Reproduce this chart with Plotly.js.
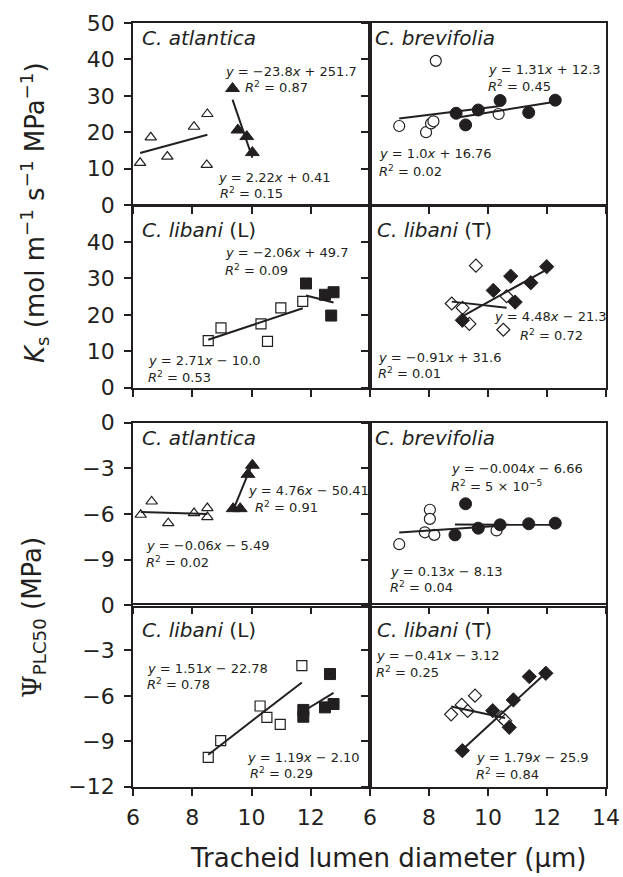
<!DOCTYPE html>
<html><head><meta charset="utf-8">
<script src="https://cdn.plot.ly/plotly-3.0.1.min.js"></script>
<style>html,body{margin:0;padding:0;background:#fff}#chart{width:623px;height:877px}</style>
</head><body><div id="chart"></div>
<script>
// ---------- data ----------
// Ks panels (row 1 & 2)
const ksAtlOpenX = [6.24, 6.60, 7.16, 8.06, 8.51, 8.49];
const ksAtlOpenY = [11.6, 18.6, 13.3, 21.5, 25.0, 11.0];
const ksAtlFillX = [9.36, 9.54, 9.84, 10.03];
const ksAtlFillY = [32.0, 20.6, 18.8, 14.4];

const ksBreOpenX = [6.99, 7.90, 8.07, 8.15, 8.23, 10.36];
const ksBreOpenY = [21.7, 20.0, 22.4, 23.0, 39.6, 25.0];
const ksBreFillX = [8.92, 9.24, 9.67, 10.41, 11.38, 12.28];
const ksBreFillY = [25.2, 22.0, 26.1, 28.7, 25.4, 28.8];

const ksLibLOpenX = [8.54, 8.97, 10.32, 10.54, 10.99, 11.73];
const ksLibLOpenY = [12.9, 16.4, 17.5, 12.7, 21.9, 23.7];
const ksLibLFillX = [11.84, 12.48, 12.77, 12.69];
const ksLibLFillY = [28.6, 25.5, 26.2, 19.8];

const ksLibTOpenX = [8.77, 9.14, 9.37, 9.59, 10.52, 10.63];
const ksLibTOpenY = [23.1, 21.9, 17.5, 33.5, 15.9, 25.1];
const ksLibTFillX = [9.13, 10.18, 10.77, 10.92, 11.45, 11.99];
const ksLibTFillY = [18.5, 26.7, 30.6, 23.5, 28.8, 33.2];

// Psi PLC50 panels (row 3 & 4)
const psAtlOpenX = [6.26, 6.63, 7.19, 8.06, 8.51, 8.51];
const psAtlOpenY = [-6.05, -5.18, -6.60, -5.94, -5.61, -6.20];
const psAtlFillX = [9.38, 9.62, 9.88, 10.03];
const psAtlFillY = [-5.65, -5.65, -3.40, -2.80];

const psBreOpenX = [6.99, 7.86, 8.03, 8.03, 8.18, 10.29];
const psBreOpenY = [-7.98, -7.20, -5.72, -6.32, -7.37, -7.08];
const psBreFillX = [8.88, 9.24, 9.67, 10.41, 11.38, 12.28];
const psBreFillY = [-7.37, -5.33, -6.93, -6.71, -6.64, -6.60];

const psLibLOpenX = [8.54, 8.96, 10.29, 10.52, 10.97, 11.70];
const psLibLOpenY = [-10.06, -8.96, -6.67, -7.42, -7.88, -4.00];
const psLibLFillX = [11.75, 11.75, 12.65, 12.48, 12.77];
const psLibLFillY = [-6.93, -7.38, -4.56, -6.76, -6.54];

const psLibTOpenX = [8.75, 9.11, 9.31, 9.56, 10.46, 10.58];
const psLibTOpenY = [-7.22, -6.60, -7.00, -5.99, -7.42, -7.64];
const psLibTFillX = [9.13, 10.16, 10.72, 10.86, 11.40, 11.96];
const psLibTFillY = [-9.62, -6.98, -8.08, -6.27, -4.73, -4.51];

// regression lines [slope, intercept], panel order 1..8
const openSlope  = [2.22, 1.0, 2.71, -0.91, -0.06, 0.13, 1.51, -0.41];
const openInt    = [0.41, 16.76, -10.0, 31.6, -5.49, -8.13, -22.78, -3.12];
const fillSlope  = [-23.8, 1.31, -2.06, 4.48, 4.76, -0.004, 1.19, 1.79];
const fillInt    = [251.7, 12.3, 49.7, -21.3, -50.41, -6.66, -21.0, -25.9];

// text labels
const panelTitles = ['<i>C. atlantica</i>', '<i>C. brevifolia</i>', '<i>C. libani</i> (L)', '<i>C. libani</i> (T)',
                     '<i>C. atlantica</i>', '<i>C. brevifolia</i>', '<i>C. libani</i> (L)', '<i>C. libani</i> (T)'];
const eqA = ['<i>y</i> = −23.8<i>x</i> + 251.7', '<i>y</i> = 1.31<i>x</i> + 12.3', '<i>y</i> = −2.06<i>x</i> + 49.7', '<i>y</i> = 4.48<i>x</i> − 21.3',
             '<i>y</i> = 4.76<i>x</i> − 50.41', '<i>y</i> = −0.004<i>x</i> − 6.66', '<i>y</i> = 1.51<i>x</i> − 22.78', '<i>y</i> = −0.41<i>x</i> − 3.12'];
const r2A = ['0.87', '0.45', '0.09', '0.72', '0.91', '5 × 10<sup>−5</sup>', '0.78', '0.25'];
const eqB = ['<i>y</i> = 2.22<i>x</i> + 0.41', '<i>y</i> = 1.0<i>x</i> + 16.76', '<i>y</i> = 2.71<i>x</i> − 10.0', '<i>y</i> = −0.91<i>x</i> + 31.6',
             '<i>y</i> = −0.06<i>x</i> − 5.49', '<i>y</i> = 0.13<i>x</i> − 8.13', '<i>y</i> = 1.19<i>x</i> − 2.10', '<i>y</i> = 1.79<i>x</i> − 25.9'];
const r2B = ['0.15', '0.02', '0.53', '0.01', '0.02', '0.04', '0.29', '0.84'];
const ksTicks = [0, 10, 20, 30, 40, 50];
const ksTicks2 = [0, 10, 20, 30, 40];
const psTicks = [0, -3, -6, -9];
const psTicks2 = [0, -3, -6, -9, -12];
const xTicksL = [6, 8, 10, 12];
const xTicksR = [6, 8, 10, 12, 14];

// ---------- build ----------
const W = 623, H = 877;
const INK = '#231f20';
const FONT = 'DejaVu Sans';

const groups = [
  [ksAtlOpenX, ksAtlOpenY, ksAtlFillX, ksAtlFillY, 'triangle-up'],
  [ksBreOpenX, ksBreOpenY, ksBreFillX, ksBreFillY, 'circle'],
  [ksLibLOpenX, ksLibLOpenY, ksLibLFillX, ksLibLFillY, 'square'],
  [ksLibTOpenX, ksLibTOpenY, ksLibTFillX, ksLibTFillY, 'diamond'],
  [psAtlOpenX, psAtlOpenY, psAtlFillX, psAtlFillY, 'triangle-up'],
  [psBreOpenX, psBreOpenY, psBreFillX, psBreFillY, 'circle'],
  [psLibLOpenX, psLibLOpenY, psLibLFillX, psLibLFillY, 'square'],
  [psLibTOpenX, psLibTOpenY, psLibTFillX, psLibTFillY, 'diamond']
];
const openSize = {'triangle-up': 10, 'circle': 11, 'square': 10, 'diamond': 10};
const fillSize = {'triangle-up': 12, 'circle': 12, 'square': 11, 'diamond': 11};

function fitLine(xs, m, b) {
  const x0 = Math.min(...xs), x1 = Math.max(...xs);
  return {x: [x0, x1], y: [m * x0 + b, m * x1 + b]};
}

const traces = [];
groups.forEach((g, i) => {
  const k = i + 1;
  const xa = 'x' + (k === 1 ? '' : k), ya = 'y' + (k === 1 ? '' : k);
  const [ox, oy, fx, fy, sym] = g;
  traces.push({x: ox, y: oy, xaxis: xa, yaxis: ya, type: 'scatter', mode: 'markers', cliponaxis: false,
    marker: {symbol: sym, size: openSize[sym], color: '#ffffff', line: {color: INK, width: 1.2}}});
  traces.push({x: fx, y: fy, xaxis: xa, yaxis: ya, type: 'scatter', mode: 'markers', cliponaxis: false,
    marker: {symbol: sym, size: fillSize[sym], color: INK, line: {color: INK, width: 1}}});
  const lo = fitLine(ox, openSlope[i], openInt[i]);
  const lf = fitLine(fx, fillSlope[i], fillInt[i]);
  traces.push({x: lo.x, y: lo.y, xaxis: xa, yaxis: ya, type: 'scatter', mode: 'lines', line: {color: INK, width: 2}});
  traces.push({x: lf.x, y: lf.y, xaxis: xa, yaxis: ya, type: 'scatter', mode: 'lines', line: {color: INK, width: 2}});
});

// pixel-based domains
const colDom = [[133 / W, 370 / W], [370 / W, 606 / W]];
const rowPx = [[23, 205], [205.5, 387.7], [422.5, 605.5], [605, 786.7]];
const rowDom = rowPx.map(r => [1 - r[1] / H, 1 - r[0] / H]);

const layout = {
  width: W, height: H,
  margin: {l: 0, r: 0, t: 0, b: 0},
  paper_bgcolor: '#ffffff', plot_bgcolor: 'rgba(0,0,0,0)',
  showlegend: false,
  font: {family: FONT, size: 14, color: INK},
  annotations: []
};

for (let i = 0; i < 8; i++) {
  const k = i + 1, row = Math.floor(i / 2), col = i % 2;
  const common = {showline: true, linewidth: 1.8, linecolor: INK, mirror: true, ticks: 'outside',
    ticklen: 7, tickwidth: 1.8, tickcolor: INK, showgrid: false, zeroline: false,
    tickfont: {family: FONT, size: 22, color: INK}, fixedrange: true};
  layout['xaxis' + (k === 1 ? '' : k)] = Object.assign({}, common, {
    domain: colDom[col], range: [6, 14], anchor: 'y' + (k === 1 ? '' : k),
    tickmode: 'array', tickvals: col === 0 ? xTicksL : xTicksR,
    showticklabels: row === 3, ticklabelstandoff: 3
  });
  let yt = row === 0 ? ksTicks : row === 1 ? ksTicks2 : row === 2 ? psTicks : psTicks2;
  layout['yaxis' + (k === 1 ? '' : k)] = Object.assign({}, common, {
    domain: rowDom[row], range: row < 2 ? [0, 50] : [-12, 0], anchor: 'x' + (k === 1 ? '' : k),
    tickmode: 'array', tickvals: yt, showticklabels: col === 0, ticklabelstandoff: 5
  });
}

function ann(px, py, text, size, extra) {
  return Object.assign({xref: 'paper', yref: 'paper', x: px / W, y: 1 - py / H, text: text,
    showarrow: false, xanchor: 'left', yanchor: 'middle',
    font: {family: FONT, size: size, color: INK}}, extra || {});
}

// positions (px) of panel labels: [title, eqA, r2A, eqB, r2B]
const pos = [
  [[140, 38], [223, 71], [243, 87], [216, 177], [218, 193]],
  [[373, 38], [486, 70], [486, 86], [377, 154], [377, 171]],
  [[140, 230], [223, 253], [223, 270], [146, 360], [146, 377]],
  [[375, 230], [492, 317], [518, 335], [376, 357], [376, 373]],
  [[140, 438], [246, 490], [253, 507], [144, 545], [144, 562]],
  [[373, 438], [449, 469], [449, 486], [388, 571], [388, 587]],
  [[140, 630], [145, 668], [145, 684], [245, 757], [248, 773]],
  [[375, 630], [374, 655], [374, 672], [474, 757], [474, 774]]
];
const EQ = 13;
for (let i = 0; i < 8; i++) {
  const p = pos[i];
  layout.annotations.push(ann(p[0][0], p[0][1], panelTitles[i], 20));
  layout.annotations.push(ann(p[1][0], p[1][1], eqA[i], EQ));
  layout.annotations.push(ann(p[2][0], p[2][1], '<i>R</i><sup>2</sup> = ' + r2A[i], EQ));
  layout.annotations.push(ann(p[3][0], p[3][1], eqB[i], EQ));
  layout.annotations.push(ann(p[4][0], p[4][1], '<i>R</i><sup>2</sup> = ' + r2B[i], EQ));
}

// axis titles
layout.annotations.push(ann(35, 213, '<i>K</i><sub>s</sub> (mol m<sup>−1</sup> s<sup>−1</sup> MPa<sup>−1</sup>)', 26,
  {textangle: -90, xanchor: 'center', yanchor: 'middle'}));
layout.annotations.push(ann(33, 618, '<span style="font-family:\'DejaVu Serif\'">Ψ</span><sub>PLC50</sub> (MPa)', 26,
  {textangle: -90, xanchor: 'center', yanchor: 'middle'}));
layout.annotations.push(ann(388, 858, 'Tracheid lumen diameter (μm)', 26,
  {xanchor: 'center', yanchor: 'middle'}));

Plotly.newPlot('chart', traces, layout, {displayModeBar: false, responsive: false});
</script>
</body></html>
